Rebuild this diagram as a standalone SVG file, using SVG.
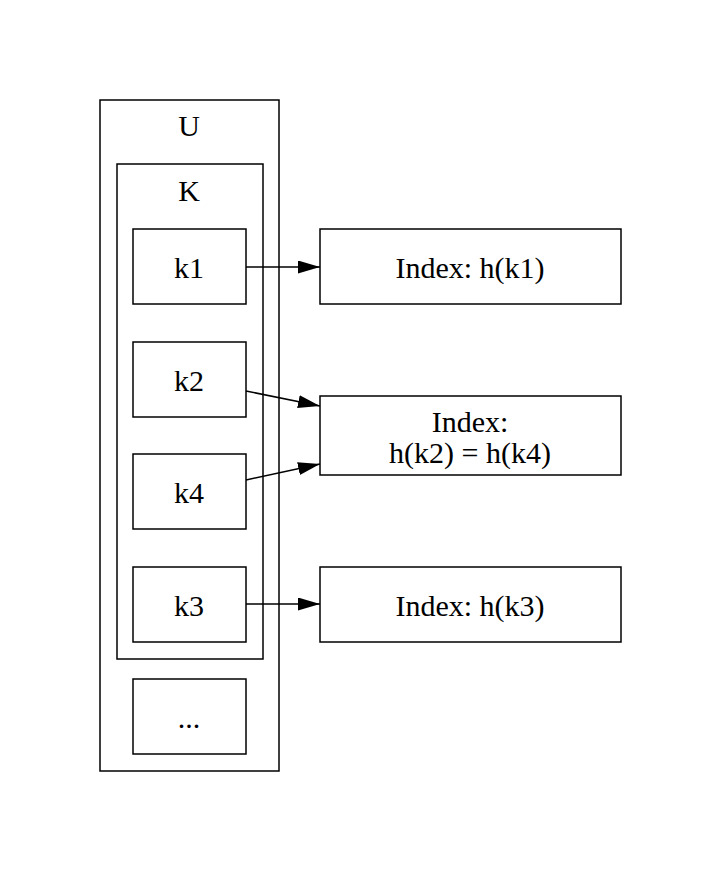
<svg xmlns="http://www.w3.org/2000/svg" width="705" height="871" viewBox="0 0 705 871">
<style>
.b{fill:none;stroke:#000;stroke-width:1.5}
.t{font-family:"Liberation Serif",serif;font-size:30px;text-anchor:middle;fill:#000}
.e{stroke:#000;stroke-width:1.5;fill:none}
</style>
<defs>
<marker id="a" markerWidth="22" markerHeight="13" refX="22" refY="6.5" orient="auto" markerUnits="userSpaceOnUse" viewBox="0 0 22 13">
<path d="M0,0 L22,6.5 L0,13 z" fill="#000"/>
</marker>
</defs>
<rect width="705" height="871" fill="#fff"/>
<g id="U"><rect class="b" x="100" y="100" width="179" height="671"/><text class="t" x="189" y="136">U</text></g>
<g id="K"><rect class="b" x="117" y="164" width="146" height="495"/><text class="t" x="189" y="201">K</text></g>
<g id="k1"><rect class="b" x="133" y="229" width="113" height="75"/><text class="t" x="189" y="278">k1</text></g>
<g id="k2"><rect class="b" x="133" y="342" width="113" height="75"/><text class="t" x="189" y="391">k2</text></g>
<g id="k4"><rect class="b" x="133" y="454" width="113" height="75"/><text class="t" x="189" y="503">k4</text></g>
<g id="k3"><rect class="b" x="133" y="567" width="113" height="75"/><text class="t" x="189" y="616">k3</text></g>
<g id="more"><rect class="b" x="133" y="679" width="113" height="75"/><text class="t" x="189" y="728">...</text></g>
<g id="h1"><rect class="b" x="320" y="229" width="301" height="75"/><text class="t" x="470" y="278">Index: h(k1)</text></g>
<g id="h24"><rect class="b" x="320" y="396" width="301" height="79"/><text class="t" x="470" y="432">Index:</text><text class="t" x="470" y="463">h(k2) = h(k4)</text></g>
<g id="h3"><rect class="b" x="320" y="567" width="301" height="75"/><text class="t" x="470" y="616">Index: h(k3)</text></g>
<g id="edges">
<line class="e" x1="246" y1="267" x2="320" y2="267" marker-end="url(#a)"/>
<line class="e" x1="246" y1="391" x2="320" y2="406" marker-end="url(#a)"/>
<line class="e" x1="246" y1="480" x2="320" y2="464" marker-end="url(#a)"/>
<line class="e" x1="246" y1="604" x2="320" y2="604" marker-end="url(#a)"/>
</g>
</svg>
